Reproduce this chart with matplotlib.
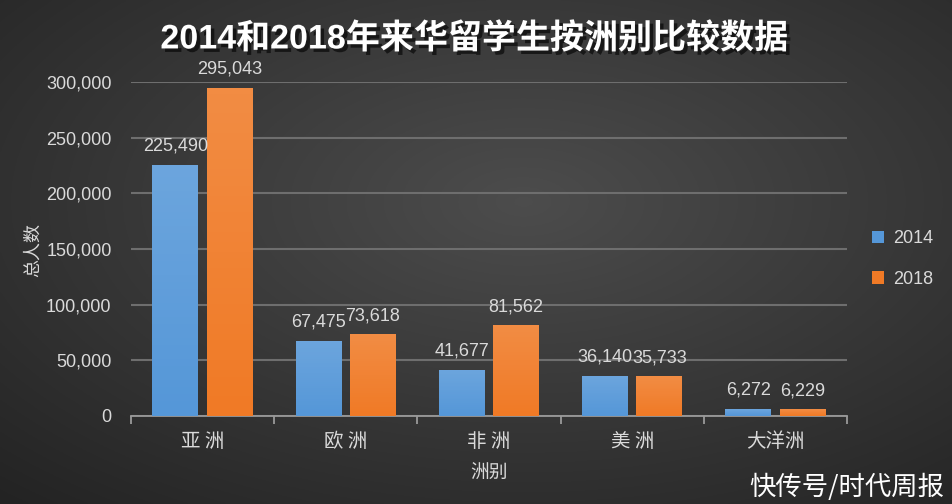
import numpy as np
import matplotlib.pyplot as plt
import matplotlib.patheffects as pe
from matplotlib.ticker import FuncFormatter, MultipleLocator

plt.rcParams['font.family'] = ['Noto Sans CJK SC', 'DejaVu Sans']

categories = ['亚 洲', '欧 洲', '非 洲', '美 洲', '大洋洲']
years = ['2014', '2018']
values_2014 = [225490, 67475, 41677, 36140, 6272]
values_2018 = [295043, 73618, 81562, 35733, 6229]

blue = '#5597d8'
orange = '#f07a26'
text_col = '#dadada'
num_font = ['Liberation Sans', 'DejaVu Sans']

fig = plt.figure(figsize=(9.52, 5.04), dpi=100)

# radial gradient background: lighter middle, darker corners
bg = fig.add_axes([0, 0, 1, 1])
yy, xx = np.mgrid[1:0:300j, 0:1:560j]
r = np.sqrt(((xx - 0.55) * 1.0) ** 2 + ((yy - 0.6) * 1.0) ** 2) / 0.75
g = np.clip(0.30 - 0.15 * r, 0.13, 0.30)
bg.imshow(np.dstack([g, g, g]), aspect='auto', extent=[0, 1, 0, 1])
bg.axis('off')

ax = fig.add_axes([131 / 952, 88 / 504, 716 / 952, 334 / 504])
ax.patch.set_alpha(0)

x = np.arange(len(categories))
w = 0.32
off = 0.19
bars1 = ax.bar(x - off, values_2014, w, color=blue, label=years[0], zorder=3)
bars2 = ax.bar(x + off, values_2018, w, color=orange, label=years[1], zorder=3)

# soft highlight toward the top of each bar
shade = np.ones((100, 1, 4))
shade[:, 0, 3] = np.linspace(0, 0.14, 100)
for bars in (bars1, bars2):
    for b in bars:
        im = ax.imshow(shade, aspect='auto', zorder=4, origin='lower',
                       extent=[b.get_x(), b.get_x() + b.get_width(), 0, b.get_height()])
        im.set_clip_path(b)

for bars in (bars1, bars2):
    for b in bars:
        ax.text(b.get_x() + b.get_width() / 2, b.get_height() + 9000,
                f'{int(b.get_height()):,}', ha='center', va='bottom',
                color=text_col, fontsize=13, family=num_font)

ax.set_xlim(-0.5, len(categories) - 0.5)
ax.set_ylim(0, 300000)
ax.yaxis.set_major_locator(MultipleLocator(50000))
ax.yaxis.set_major_formatter(FuncFormatter(lambda v, p: f'{int(v):,}'))
ax.grid(axis='y', color='#6e6e6e', linewidth=1.5, zorder=0)
ax.set_axisbelow(True)

for s in ['top', 'right', 'left']:
    ax.spines[s].set_visible(False)
ax.spines['bottom'].set_color('#9a9a9a')
ax.spines['bottom'].set_linewidth(1.3)

ax.set_xticks(np.arange(len(categories) + 1) - 0.5, minor=False)
ax.set_xticklabels([])
ax.tick_params(axis='x', which='major', length=6, color='#9a9a9a', width=1.3)
ax.set_xticks(x, minor=True)
ax.set_xticklabels(categories, minor=True, color=text_col, fontsize=14)
ax.tick_params(axis='x', which='minor', length=0, pad=11)
ax.tick_params(axis='y', length=0, colors=text_col, labelsize=13, pad=14)
for t in ax.get_yticklabels():
    t.set_family(num_font)

ax.set_xlabel('洲别', color=text_col, fontsize=13.5, labelpad=7)
fig.text(33 / 952, 1 - 250 / 504, '总人数', rotation=90, color=text_col,
         fontsize=13, ha='center', va='center')

leg = ax.legend(loc='center left', bbox_to_anchor=(1.012, 0.47), frameon=False,
                labelspacing=1.3, handlelength=0.7, handleheight=0.7,
                handletextpad=0.5, prop={'family': num_font, 'size': 13})
for t in leg.get_texts():
    t.set_color(text_col)

# title with a drop shadow
title = '2014和2018年来华留学生按洲别比较数据'
title_font = ['Liberation Sans', 'Noto Sans CJK SC']
fig.text(474 / 952, 1 - 39 / 504, title, ha='center', va='center',
         color='white', fontsize=24.5, fontweight='bold', family=title_font,
         path_effects=[pe.withSimplePatchShadow(offset=(2.5, -2.5),
                                                shadow_rgbFace='black', alpha=0.6)])

fig.text(944 / 952, 1 - 487 / 504, '快传号/时代周报', ha='right', va='center',
         color='white', fontsize=19)

fig.savefig('out.png', dpi=100)
